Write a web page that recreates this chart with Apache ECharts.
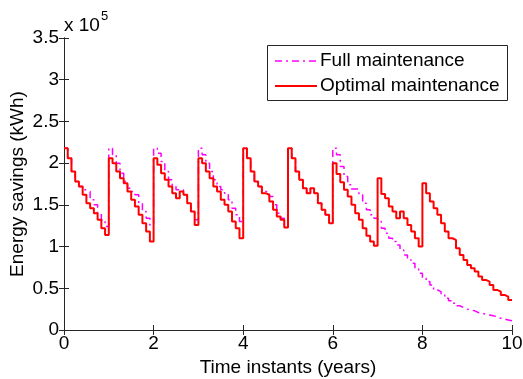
<!DOCTYPE html>
<html>
<head>
<meta charset="UTF-8">
<title></title>
<script src="https://cdn.jsdelivr.net/npm/echarts@6/dist/echarts.min.js"></script>
</head>
<body style="margin: 0">
<div id="container" style="width: 523px; height: 379px"></div>
<script type="text/javascript">
// energy savings in units of 1e5 kWh, one value per month (12 per year)
var stepsPerYear = 12;
var fullMaintenance = [
    2.18, 2.06, 1.90, 1.78, 1.72, 1.68, 1.66, 1.56, 1.50, 1.40, 1.32, 1.24,
    2.18, 2.10, 2.00, 1.88, 1.78, 1.70, 1.66, 1.62, 1.52, 1.42, 1.34, 1.26,
    2.18, 2.12, 2.02, 1.90, 1.80, 1.72, 1.68, 1.68, 1.62, 1.52, 1.42, 1.32,
    2.18, 2.10, 2.00, 1.90, 1.80, 1.72, 1.68, 1.64, 1.56, 1.46, 1.38, 1.30,
    2.18, 2.06, 1.90, 1.78, 1.72, 1.66, 1.66, 1.60, 1.50, 1.40, 1.34, 1.26,
    2.18, 2.06, 1.90, 1.80, 1.70, 1.64, 1.70, 1.64, 1.52, 1.44, 1.38, 1.28,
    2.18, 2.10, 1.96, 1.84, 1.74, 1.69, 1.69, 1.62, 1.52, 1.44, 1.38, 1.34,
    1.30, 1.22, 1.16, 1.10, 1.06, 1.02, 0.96, 0.90, 0.84, 0.80, 0.74, 0.68,
    0.62, 0.58, 0.54, 0.48, 0.46, 0.42, 0.38, 0.35, 0.32, 0.29, 0.27, 0.25,
    0.24, 0.23, 0.21, 0.20, 0.19, 0.18, 0.17, 0.16, 0.14, 0.13, 0.12, 0.11
];
var optimalMaintenance = [
    2.18, 2.06, 1.90, 1.78, 1.72, 1.62, 1.52, 1.46, 1.40, 1.32, 1.22, 1.14,
    2.06, 2.00, 1.90, 1.82, 1.76, 1.66, 1.56, 1.48, 1.38, 1.28, 1.18, 1.06,
    2.06, 1.98, 1.88, 1.80, 1.72, 1.64, 1.58, 1.66, 1.62, 1.52, 1.42, 1.26,
    2.06, 2.00, 1.90, 1.82, 1.72, 1.66, 1.56, 1.50, 1.42, 1.30, 1.22, 1.10,
    2.18, 2.06, 1.90, 1.78, 1.72, 1.64, 1.62, 1.54, 1.44, 1.36, 1.32, 1.23,
    2.18, 2.06, 1.90, 1.80, 1.70, 1.64, 1.70, 1.64, 1.52, 1.44, 1.38, 1.28,
    2.00, 1.87, 1.77, 1.68, 1.60, 1.50, 1.40, 1.32, 1.22, 1.13, 1.06, 1.01,
    1.82, 1.63, 1.58, 1.48, 1.42, 1.34, 1.42, 1.34, 1.26, 1.18, 1.10, 1.00,
    1.76, 1.64, 1.54, 1.46, 1.38, 1.28, 1.18, 1.10, 1.08, 0.98, 0.90, 0.84,
    0.78, 0.74, 0.70, 0.64, 0.60, 0.58, 0.54, 0.48, 0.46, 0.42, 0.40, 0.36
];
var seriesNames = ['Full maintenance', 'Optimal maintenance'];

// each value holds for one month; repeat the last one at t = 10
function toSteps(values) {
    var pts = [];
    for (var i = 0; i < values.length; i++) {
        pts.push([i / stepsPerYear, values[i]]);
    }
    pts.push([values.length / stepsPerYear, values[values.length - 1]]);
    return pts;
}

var font = "'Liberation Sans', Arial, sans-serif";
var axisColor = '#262626';
var fs = 19;

var dom = document.getElementById("container");
var myChart = echarts.init(dom);

var option = {
    animation: false,
    grid: { left: 64, right: 11, top: 38, bottom: 49, outerBoundsMode: 'none', containLabel: false },
    textStyle: { fontFamily: font },
    xAxis: [
        {
            type: 'value', min: 0, max: 10, interval: 2,
            splitLine: { show: false },
            axisLine: { lineStyle: { color: axisColor, width: 1 } },
            axisTick: { inside: true, length: 5, lineStyle: { color: axisColor } },
            axisLabel: { fontSize: fs, color: '#000', margin: 4, fontFamily: font },
            name: 'Time instants (years)',
            nameLocation: 'middle',
            nameMoveOverlap: false,
            nameGap: 28,
            nameTextStyle: { fontSize: fs, color: '#000', fontFamily: font }
        },
        {
            type: 'value', min: 0, max: 10, interval: 2, position: 'top',
            splitLine: { show: false },
            axisLine: { lineStyle: { color: axisColor, width: 1 } },
            axisTick: { inside: true, length: 5, lineStyle: { color: axisColor } },
            axisLabel: { show: false }
        }
    ],
    yAxis: [
        {
            type: 'value', min: 0, max: 3.5, interval: 0.5,
            splitLine: { show: false },
            axisLine: { show: true, lineStyle: { color: axisColor, width: 1 } },
            axisTick: { show: true, inside: true, length: 5, lineStyle: { color: axisColor } },
            axisLabel: { fontSize: fs, color: '#000', margin: 5, fontFamily: font },
            name: 'Energy savings (kWh)',
            nameLocation: 'middle',
            nameMoveOverlap: false,
            nameGap: 37,
            nameTextStyle: { fontSize: fs, color: '#000', fontFamily: font }
        },
        {
            type: 'value', min: 0, max: 3.5, interval: 0.5, position: 'right',
            splitLine: { show: false },
            axisLine: { show: true, lineStyle: { color: axisColor, width: 1 } },
            axisTick: { show: true, inside: true, length: 5, lineStyle: { color: axisColor } },
            axisLabel: { show: false }
        }
    ],
    series: [
        {
            name: seriesNames[0],
            type: 'line',
            step: 'end',
            showSymbol: false,
            data: toSteps(fullMaintenance),
            lineStyle: { color: '#ff00ff', width: 1.5, type: [7, 4, 2, 4] },
            z: 2
        },
        {
            name: seriesNames[1],
            type: 'line',
            step: 'end',
            showSymbol: false,
            data: toSteps(optimalMaintenance),
            lineStyle: { color: '#ff0000', width: 2 },
            z: 3
        }
    ],
    graphic: [
        // exponent above the y axis
        { type: 'text', left: 64, top: 16, style: { text: 'x 10', font: fs + 'px ' + font, fill: '#000' } },
        { type: 'text', left: 101, top: 10, style: { text: '5', font: '13px ' + font, fill: '#000' } },
        // legend box
        { type: 'rect', shape: { x: 267.5, y: 45.5, width: 240, height: 55 }, style: { fill: '#fff', stroke: axisColor, lineWidth: 1 }, z: 10 },
        { type: 'line', shape: { x1: 275, y1: 61, x2: 317, y2: 61 }, style: { stroke: '#ff00ff', lineWidth: 1.5, lineDash: [7, 4, 2, 4] }, z: 11 },
        { type: 'text', x: 320, y: 61, style: { text: seriesNames[0], font: fs + 'px ' + font, fill: '#000', verticalAlign: 'middle' }, z: 11 },
        { type: 'line', shape: { x1: 275, y1: 86, x2: 317, y2: 86 }, style: { stroke: '#ff0000', lineWidth: 2 }, z: 11 },
        { type: 'text', x: 320, y: 86, style: { text: seriesNames[1], font: fs + 'px ' + font, fill: '#000', verticalAlign: 'middle' }, z: 11 }
    ]
};

myChart.setOption(option);
</script>
</body>
</html>
